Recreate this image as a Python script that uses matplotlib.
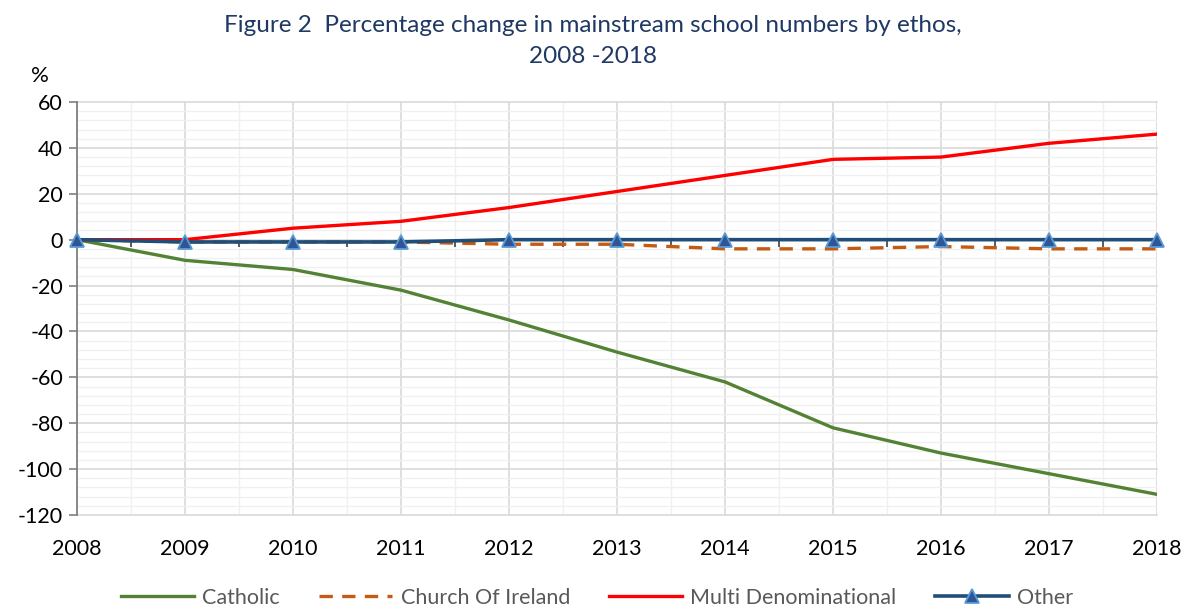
import matplotlib
matplotlib.use("Agg")
import matplotlib.pyplot as plt
from matplotlib.ticker import MultipleLocator
import numpy as np

years = [2008, 2009, 2010, 2011, 2012, 2013, 2014, 2015, 2016, 2017, 2018]
catholic = [0, -9, -13, -22, -35, -49, -62, -82, -93, -102, -111]
church_of_ireland = [0, -1, -1, -1, -2, -2, -4, -4, -3, -4, -4]
multi_denominational = [0, 0, 5, 8, 14, 21, 28, 35, 36, 42, 46]
other = [0, -1, -1, -1, 0, 0, 0, 0, 0, 0, 0]
series_names = ["Catholic", "Church Of Ireland", "Multi Denominational", "Other"]
title_text = "Figure 2  Percentage change in mainstream school numbers by ethos,\n2008 -2018"

plt.rcParams['font.family'] = ['Lato', 'DejaVu Sans']
plt.rcParams['axes.unicode_minus'] = False

fig = plt.figure(figsize=(11.89, 6.11), dpi=100)
ax = fig.add_axes([77/1189, 1 - 515/611, (1157-77)/1189, (515-102)/611])

ax.set_xlim(years[0], years[-1])
ax.set_ylim(-120, 60)

# grid
ax.yaxis.set_major_locator(MultipleLocator(20))
ax.yaxis.set_minor_locator(MultipleLocator(4))
ax.xaxis.set_major_locator(MultipleLocator(1))
ax.xaxis.set_minor_locator(MultipleLocator(0.5))
ax.grid(which='major', color='#D9D9D9', linewidth=1.2, zorder=0)
ax.grid(which='minor', color='#F0F0F0', linewidth=1.0, zorder=0)
ax.set_axisbelow(True)
for gl in ax.get_xgridlines() + ax.get_ygridlines():
    gl.set_clip_on(False)

# lines
ax.plot(years, catholic, color='#548235', linewidth=2.4, label=series_names[0], zorder=3)
ax.plot(years, church_of_ireland, color='#C55A11', linewidth=2.4, linestyle=(0, (4, 2.8)),
        label=series_names[1], zorder=3)
ax.plot(years, multi_denominational, color='#FF0000', linewidth=2.4, label=series_names[2], zorder=3)
ax.plot(years, other, color='#1F4E79', linewidth=2.6, marker='^', markersize=10,
        markerfacecolor='#2F5597', markeredgecolor='#5B9BD5', markeredgewidth=1.3,
        label=series_names[3], zorder=4, clip_on=False)

# spines
for s in ['top', 'right']:
    ax.spines[s].set_visible(False)
ax.spines['left'].set_color('#7F7F7F')
ax.spines['left'].set_linewidth(1.3)
ax.spines['bottom'].set_position(('data', 0))
ax.spines['bottom'].set_visible(False)

# y ticks
ax.tick_params(axis='y', which='major', direction='out', length=6, width=1.2,
               color='#7F7F7F', labelsize=15.5, labelcolor='#000000', pad=4)
ax.tick_params(axis='y', which='minor', length=0)

# x ticks on zero line (category separators) - no labels
ax.tick_params(axis='x', which='both', direction='out', length=5, width=1.2,
               color='#404040', labelbottom=False)
ax.tick_params(axis='x', which='major', length=0)

# year labels at bottom via secondary axis
sec = ax.secondary_xaxis('bottom')
sec.set_xticks(years)
sec.set_xticklabels([str(y) for y in years])
sec.tick_params(length=0, labelsize=15.5, pad=17, labelcolor='#000000')
sec.spines['bottom'].set_visible(False)
sec.xaxis.set_minor_locator(matplotlib.ticker.NullLocator())

# percent label
fig.text(40/1189, 1 - 76/611, '%', fontsize=16, ha='center', va='center', color='#000000')

# title
fig.text(0.4985, 1 - 41/611, title_text, fontsize=17.5, ha='center', va='center',
         color='#1F3864', linespacing=1.55)

# legend
fig.legend(loc='center', bbox_to_anchor=(0.502, 1 - 598/611), ncol=4, frameon=False,
           fontsize=15.5, handlelength=3.4, columnspacing=1.8, handletextpad=0.4,
           labelcolor='#595959')

fig.savefig('out.png', dpi=100)
